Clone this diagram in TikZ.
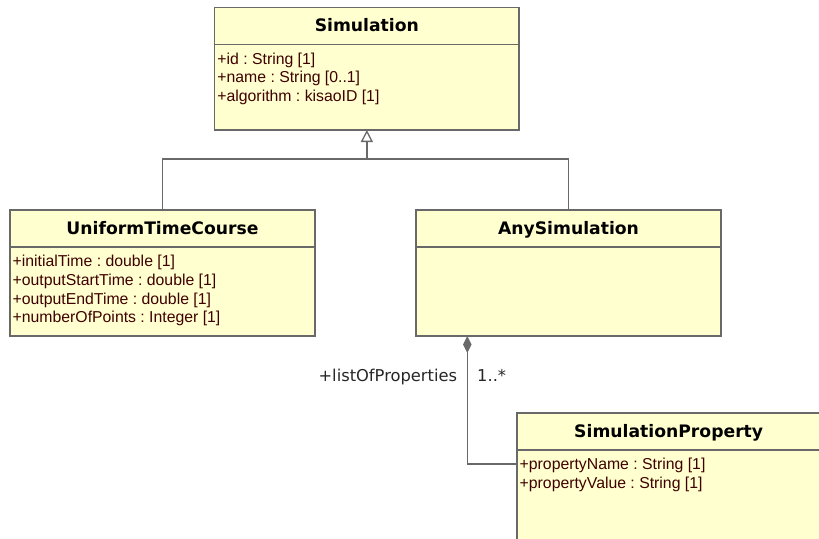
\documentclass[tikz,border=0pt]{standalone}
\usepackage{fontspec}
\setmainfont{Liberation Sans}
\newfontfamily\headfont{DejaVu Sans}
\usetikzlibrary{calc,arrows.meta}
\frenchspacing

\definecolor{classfill}{RGB}{255,255,208}
\definecolor{classedge}{RGB}{105,105,105}
\definecolor{attrcolor}{RGB}{64,0,0}

\tikzset{
  classbox/.style={draw=classedge, line width=1.3pt, fill=classfill, rectangle,
    anchor=north west, inner sep=0pt, outer sep=0pt},
  divider/.style={draw=classedge, line width=1.3pt},
  titletext/.style={anchor=base, inner sep=0pt,
    font=\headfont\bfseries\fontsize{17.2}{20}\selectfont, text=black},
  attrtext/.style={anchor=base west, inner sep=0pt,
    font=\fontsize{15.8}{18}\selectfont, text=attrcolor},
  roletext/.style={inner sep=0pt, font=\headfont\fontsize{16.3}{19}\selectfont,
    text=black!85},
  conn/.style={draw=classedge, line width=1.3pt},
}

% #1 name, #2 left, #3 top, #4 width, #5 height, #6 class name, #7 attribute list
\newcommand\umlclass[7]{%
  \node[classbox, minimum width=#4pt, minimum height=#5pt] (#1) at (#2,#3) {};
  \draw[divider] ($(#1.north west)+(0,37)$) -- ($(#1.north east)+(0,37)$);
  \node[titletext] (#1-title) at ($(#1.north)+(0,24.3)$) {#6};
  \foreach \attr [count=\i] in {#7} {
    \node[attrtext] (#1-a\i) at ($(#1.north west)+(2.5,{56.7+(\i-1)*18.7})$) {\attr};
  }%
}

\begin{document}
\begin{tikzpicture}[x=1pt,y=-1pt]
  \useasboundingbox (0,0) rectangle (819,538);
  \clip (0,0) rectangle (819,538);

  \umlclass{sim}{214.7}{7.3}{304.3}{122.7}{Simulation}%
    {{+id : String [1]},{+name : String [0..1]},{+algorithm : kisaoID [1]}}
  \umlclass{utc}{10}{210}{305}{126}{UniformTimeCourse}%
    {{+initialTime : double [1]},{+outputStartTime : double [1]},%
     {+outputEndTime : double [1]},{+numberOfPoints : Integer [1]}}
  \umlclass{any}{416}{210}{305}{126}{AnySimulation}{}
  \umlclass{prop}{517}{413}{303.4}{140}{SimulationProperty}%
    {{+propertyName : String [1]},{+propertyValue : String [1]}}

  % generalization tree
  \coordinate (fork) at ($(sim.south)+(0,29)$);
  \draw[conn] (utc.north) |- (fork) -| (any.north);
  \draw[conn, -{Triangle[open, length=12pt, width=12pt, fill=white]}] (fork) -- (sim.south);

  % composition AnySimulation <>-- SimulationProperty
  \coordinate (whole) at ($(any.south west)+(51.3,0)$);
  \coordinate (part) at ($(prop.north west)+(0,51)$);
  \draw[conn, {Diamond[length=17pt, width=8.5pt]}-] (whole) |- (part);

  \node[roletext, anchor=base east] (role) at ($(whole)+(-10,45.7)$) {+listOfProperties};
  \node[roletext, anchor=base west] (mult) at ($(whole)+(9.7,45.7)$) {1..*};
\end{tikzpicture}
\end{document}
